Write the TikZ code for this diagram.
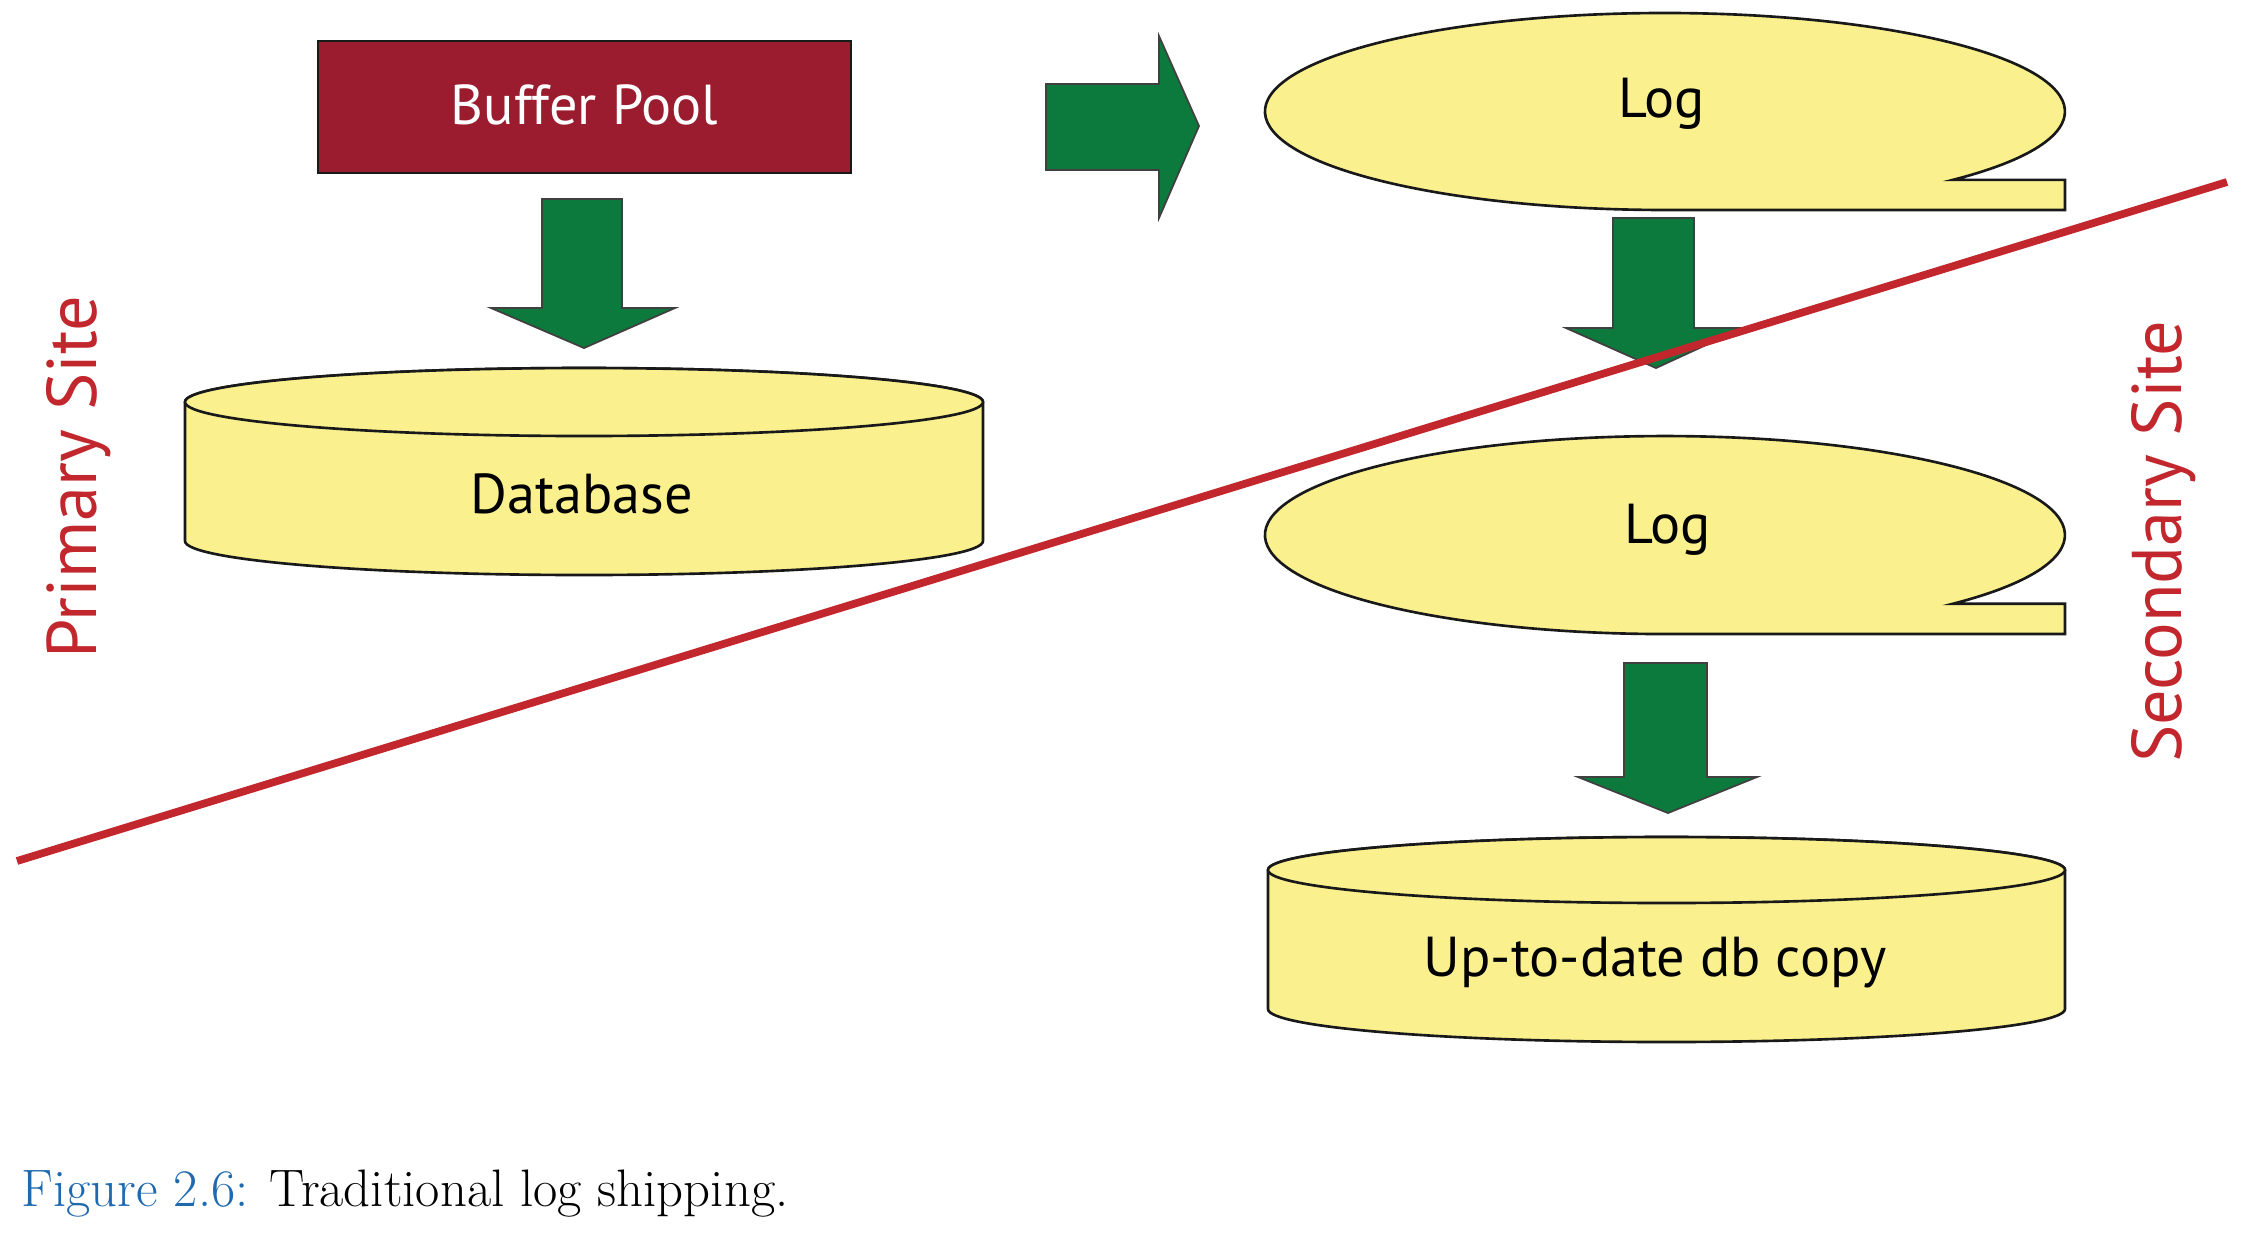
\documentclass[tikz,border=0pt]{standalone}
\usepackage{fontspec}
\newfontfamily\diagfont{PT Sans}
\definecolor{bpred}{HTML}{9B1C2E}
\definecolor{ylw}{HTML}{FAF18E}
\definecolor{grn}{HTML}{0C7A3C}
\definecolor{sitered}{HTML}{C1272D}
\definecolor{capblue}{HTML}{1F6AAF}
\begin{document}
\begin{tikzpicture}[x=0.01cm,y=-0.01cm,
  outl/.style={draw=black!90,line width=0.75pt},
  yshape/.style={outl,fill=ylw},
  garrow/.style={draw=black!75,line width=0.5pt,fill=grn},
  lbl/.style={font=\diagfont\fontsize{16}{18}\selectfont,inner sep=0pt},
  sitelbl/.style={font=\diagfont\fontsize{20}{22}\selectfont,text=sitered,rotate=90,inner sep=0pt}]
\useasboundingbox (0,0) rectangle (2244,1232);
% Buffer pool
\draw[outl,fill=bpred] (318,41) rectangle (851,173);
\node[lbl,text=white] (bp) at (584.5,105) {Buffer Pool};
% arrow buffer pool -> database
\draw[garrow] (542,199) -- (622,199) -- (622,308) -- (675,308) -- (584,348) -- (491,308) -- (542,308) -- cycle;
% Database cylinder
\draw[yshape] (185,402) -- (185,541) arc[start angle=180,end angle=0,x radius=399,y radius=34] -- (983,402) arc[start angle=0,end angle=-180,x radius=399,y radius=34] -- cycle;
\draw[yshape] (584,402) ellipse[x radius=399,y radius=34];
\node[lbl] (db) at (582,494) {Database};
% right arrow
\draw[garrow] (1046,84) -- (1159,84) -- (1159,36) -- (1199,126) -- (1159,218) -- (1159,170) -- (1046,170) -- cycle;
% Log 1  (centre 1665,111.5)
\draw[yshape] (1952.7,179.9) arc[start angle=44,end angle=-270,x radius=400,y radius=98.5] -- (2065,210) -- (2065,179.9) -- cycle;
\node[lbl] (log1) at (1662,104) {Log};
% arrow log1 -> log2
\draw[garrow] (1613,218) -- (1694,218) -- (1694,328) -- (1743,328) -- (1656,368) -- (1566,328) -- (1613,328) -- cycle;
% Log 2  (centre 1665,535)
\draw[yshape] (1952.7,603.8) arc[start angle=44,end angle=-270,x radius=400,y radius=99] -- (2065,634) -- (2065,603.8) -- cycle;
\node[lbl] (log2) at (1668,530) {Log};
% arrow log2 -> copy
\draw[garrow] (1624,663) -- (1707,663) -- (1707,777) -- (1757,777) -- (1668,813) -- (1578,777) -- (1624,777) -- cycle;
% DB copy cylinder
\draw[yshape] (1268,870) -- (1268,1009) arc[start angle=180,end angle=0,x radius=398.5,y radius=33] -- (2065,870) arc[start angle=0,end angle=-180,x radius=398.5,y radius=33] -- cycle;
\draw[yshape] (1666.5,870) ellipse[x radius=398.5,y radius=33];
\node[lbl] (copy) at (1655,963) {Up-to-date db copy};
% divider line
\coordinate (la) at (17,861);
\coordinate (lb) at (2227,182);
\draw[sitered,line width=2.2pt] (la) -- (lb);
% site labels
\node[sitelbl] (prim) at (79,477) {Primary Site};
\node[sitelbl] (sec) at (2164,542) {Secondary Site};
% caption
\node[anchor=base west,inner sep=0pt,font=\fontsize{15}{18}\selectfont] (cap) at (21,1206) {\textcolor{capblue}{Figure 2.6:} Traditional log shipping.};
\end{tikzpicture}
\end{document}
